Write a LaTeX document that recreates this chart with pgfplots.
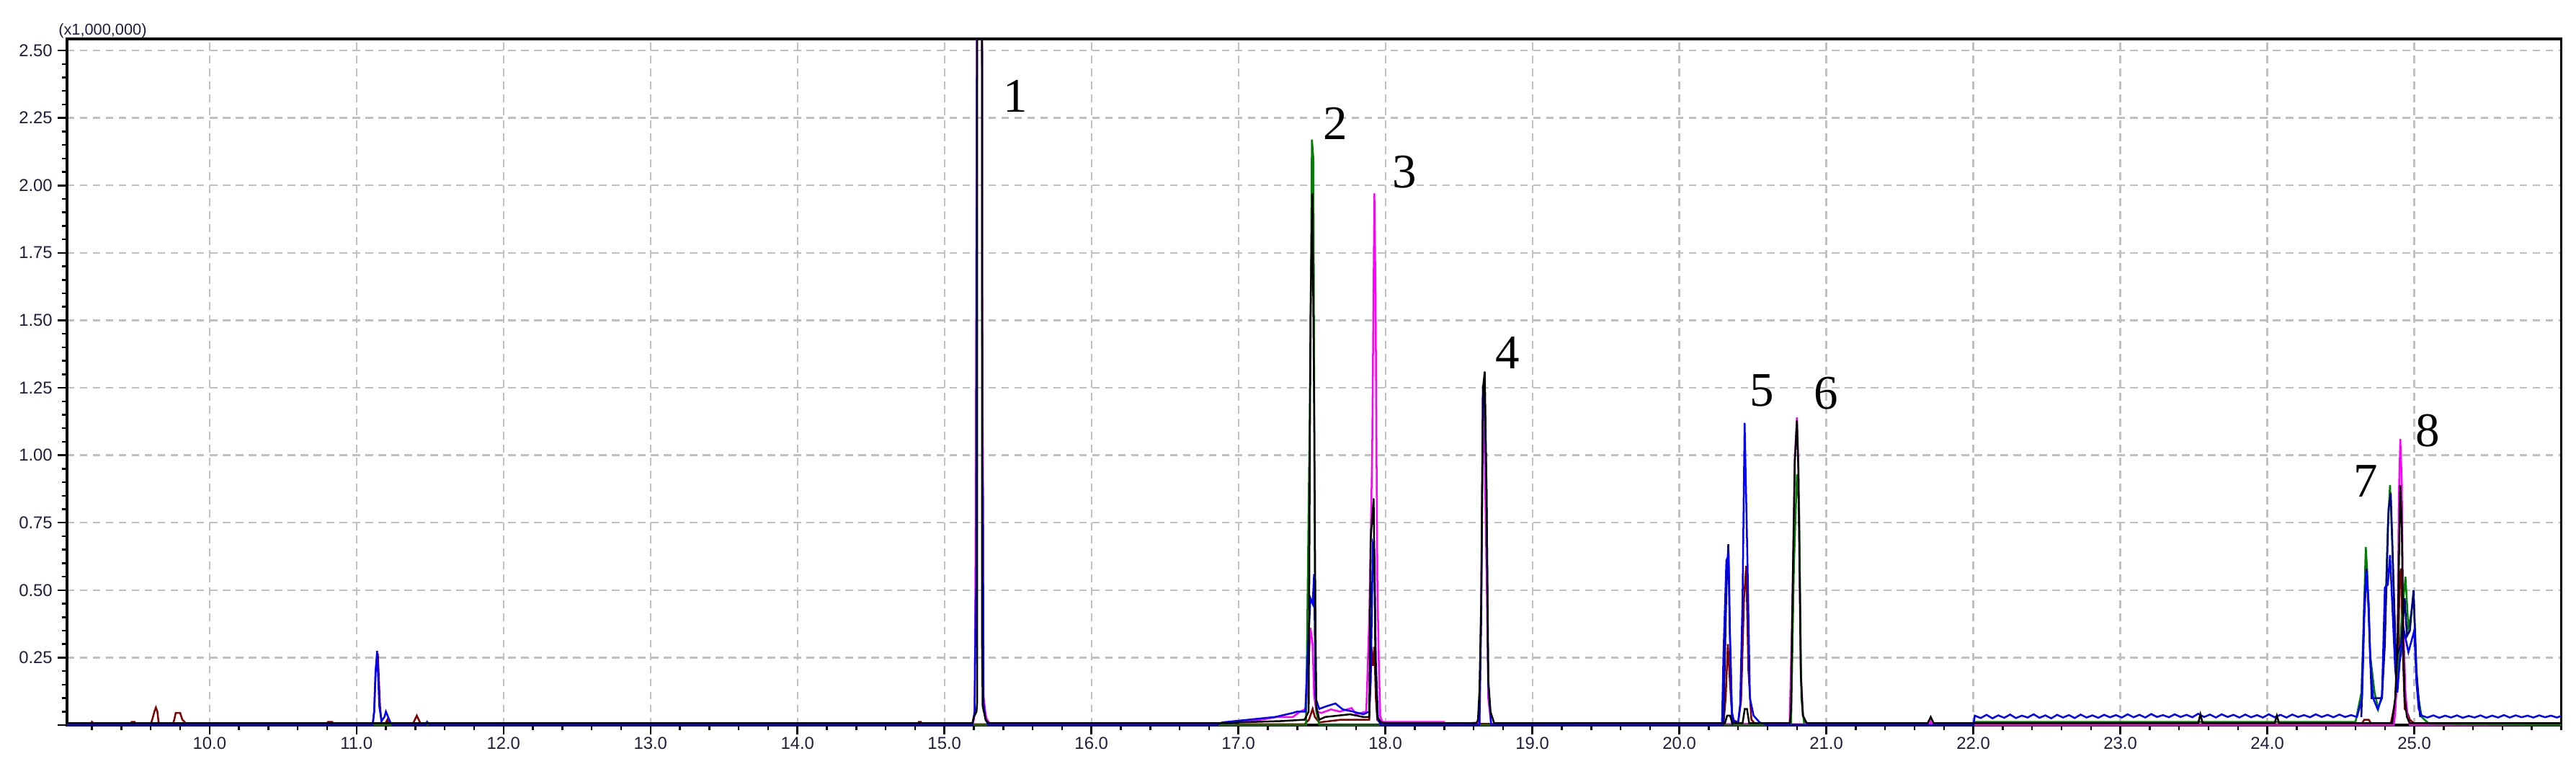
\documentclass[border=0pt]{standalone}
\usepackage{fontspec}
\setmainfont{Liberation Sans}
\newfontfamily\peakfont{Liberation Serif}
\usepackage{pgfplots}
\pgfplotsset{compat=1.18}

\definecolor{trmaroon}{RGB}{128,0,0}
\definecolor{trmagenta}{RGB}{255,0,255}
\definecolor{trgreen}{RGB}{0,128,0}
\definecolor{trblue}{RGB}{0,0,255}
\definecolor{trnavy}{RGB}{0,0,128}
\definecolor{gridgray}{RGB}{192,192,192}
\definecolor{tickcol}{RGB}{30,30,60}

\begin{document}
\begin{tikzpicture}
\begin{axis}[
  scale only axis,
  width=29.05cm,
  height=7.99cm,
  xmin=9.03, xmax=26.0,
  ymin=0, ymax=2.543,
  axis line style={line width=0.8pt},
  tick align=outside,
  tick pos=left,
  xtick={10,...,25},
  xticklabels={10.0,11.0,12.0,13.0,14.0,15.0,16.0,17.0,18.0,19.0,20.0,21.0,22.0,23.0,24.0,25.0},
  minor xtick={9.2,9.4,...,25.9},
  ytick={0,0.25,...,2.5},
  yticklabels={{},0.25,0.50,0.75,1.00,1.25,1.50,1.75,2.00,2.25,2.50},
  minor ytick={0.05,0.1,...,2.51},
  major tick length=0.11cm,
  minor tick length=0.055cm,
  every tick/.style={black, line width=0.6pt},
  every tick label/.append style={font=\fontsize{5.7}{6}\selectfont, text=tickcol},
  xticklabel style={inner sep=0.8pt},
  yticklabel style={inner sep=1.5pt},
  grid=major,
  major grid style={gridgray, line width=0.55pt, dash pattern=on 2.5pt off 1.8pt},
  every axis plot/.append style={line width=0.6pt},
]

%% maroon trace
\addplot[trmaroon] coordinates {
(9.03,0.003)(9.19,0.003)(9.20,0.012)(9.215,0.003)(9.46,0.003)(9.47,0.012)(9.49,0.012)(9.50,0.003)
(9.60,0.003)(9.61,0.02)(9.625,0.05)(9.635,0.065)(9.645,0.05)(9.655,0.003)(9.75,0.003)(9.76,0.02)
(9.77,0.045)(9.80,0.045)(9.815,0.02)(9.83,0.012)(9.84,0.003)(10.80,0.003)(10.805,0.012)(10.835,0.012)
(10.84,0.003)(11.11,0.003)(11.12,0.05)(11.13,0.2)(11.145,0.265)(11.16,0.07)(11.17,0.01)(11.19,0.003)
(11.20,0.01)(11.21,0.02)(11.22,0.003)(11.38,0.003)(11.39,0.012)(11.41,0.035)(11.43,0.012)(11.44,0.003)
(14.82,0.003)(14.825,0.012)(14.84,0.012)(14.845,0.003)(17.45,0.003)(17.48,0.02)(17.505,0.06)(17.52,0.03)
(17.55,0.01)(17.70,0.02)(17.85,0.02)(17.89,0.02)(17.905,0.29)(17.915,0.22)(17.925,0.29)(17.935,0.1)
(17.945,0.02)(17.97,0.005)(20.30,0.003)(20.315,0.1)(20.33,0.30)(20.345,0.15)(20.36,0.02)(20.40,0.01)
(20.42,0.09)(20.44,0.47)(20.455,0.59)(20.47,0.2)(20.49,0.02)(20.52,0.003)(24.64,0.003)(24.66,0.02)
(24.69,0.02)(24.71,0.003)(24.84,0.005)(24.86,0.06)(24.875,0.1)(24.89,0.2)(24.90,0.55)(24.91,0.58)
(24.92,0.3)(24.935,0.06)(24.95,0.05)(24.97,0.02)(24.99,0.01)(25.0,0.005)(26.0,0.003)
};

%% magenta trace
\addplot[trmagenta] coordinates {
(9.03,0.0)(15.19,0.0)(15.20,0.02)(15.205,0.05)(15.21,0.49)(15.212,0.69)(15.2215,2.7)(15.256,2.7)
(15.258,1.17)(15.262,0.99)(15.265,0.11)(15.28,0.04)(15.29,0.02)(15.31,0.005)(16.95,0.005)(17.0,0.01)
(17.18,0.022)(17.26,0.03)(17.37,0.03)(17.42,0.05)(17.46,0.06)(17.475,0.2)(17.49,0.36)(17.505,0.30)
(17.515,0.11)(17.53,0.05)(17.565,0.045)(17.63,0.058)(17.69,0.05)(17.77,0.063)(17.80,0.04)(17.87,0.05)
(17.89,0.39)(17.91,1.0)(17.925,1.97)(17.933,1.60)(17.945,0.54)(17.955,0.24)(17.965,0.03)(17.98,0.012)
(18.40,0.012)(18.405,0.0)(18.64,0.01)(18.652,0.48)(18.664,1.26)(18.676,1.0)(18.69,0.5)(18.70,0.1)
(18.72,0.0)(20.75,0.005)(20.768,0.42)(20.785,0.99)(20.80,1.14)(20.81,0.95)(20.826,0.21)(20.84,0.04)
(20.86,0.0)(21.70,0.0)(21.71,0.012)(21.72,0.0)(24.86,0.0)(24.87,0.04)(24.885,0.2)(24.895,0.85)
(24.905,1.06)(24.915,0.9)(24.925,0.38)(24.94,0.12)(24.955,0.03)(24.97,0.0)(26.0,0.0)
};

%% green trace
\addplot[trgreen] coordinates {
(9.03,0.0)(17.46,0.0)(17.467,0.30)(17.49,1.4)(17.50,2.17)(17.51,2.1)(17.52,0.56)(17.53,0.05)
(17.55,0.0)(20.76,0.0)(20.78,0.6)(20.80,0.93)(20.815,0.8)(20.83,0.1)(20.85,0.0)(22.0,0.0)
(22.01,0.012)(24.60,0.012)(24.64,0.12)(24.655,0.37)(24.67,0.66)(24.68,0.57)(24.70,0.26)(24.73,0.12)
(24.755,0.06)(24.78,0.11)(24.80,0.36)(24.82,0.74)(24.835,0.89)(24.85,0.67)(24.87,0.3)(24.89,0.18)
(24.915,0.4)(24.94,0.55)(24.96,0.36)(24.975,0.40)(24.995,0.48)(25.02,0.13)(25.05,0.03)(25.1,0.005)
(26.0,0.0)
};

%% navy trace
\addplot[trnavy] coordinates {
(20.30,0.0)(20.32,0.50)(20.333,0.67)(20.343,0.35)(20.36,0.0)
};
\addplot[trnavy] coordinates {
(24.64,0.03)(24.66,0.45)(24.675,0.58)(24.69,0.42)(24.71,0.1)(24.78,0.1)(24.80,0.3)(24.825,0.8)
(24.84,0.86)(24.855,0.6)(24.875,0.25)(24.91,0.3)(24.935,0.47)(24.95,0.33)(24.97,0.35)(24.995,0.50)
(25.015,0.2)(25.04,0.03)
};

%% blue trace
\addplot[trblue] coordinates {
(9.03,0.0)(11.11,0.0)(11.12,0.05)(11.13,0.2)(11.14,0.275)(11.155,0.07)(11.17,0.015)(11.19,0.03)
(11.20,0.05)(11.215,0.03)(11.23,0.01)(11.25,0.0)(11.47,0.0)(11.48,0.012)(11.50,0.0)(15.19,0.0)
(15.205,0.05)(15.212,0.41)(15.216,0.51)(15.2215,2.7)(15.256,2.7)(15.258,0.99)(15.262,0.81)(15.266,0.08)
(15.28,0.02)(15.30,0.0)(16.85,0.0)(16.89,0.01)(17.25,0.03)(17.37,0.045)(17.40,0.05)(17.455,0.05)
(17.47,0.25)(17.49,0.47)(17.505,0.45)(17.515,0.56)(17.525,0.1)(17.55,0.06)(17.60,0.07)(17.66,0.08)
(17.71,0.058)(17.78,0.05)(17.85,0.04)(17.89,0.05)(17.90,0.16)(17.915,0.67)(17.925,0.65)(17.935,0.24)
(17.95,0.02)(17.97,0.0)(18.64,0.0)(18.652,0.4)(18.664,1.26)(18.676,1.2)(18.688,0.87)(18.70,0.15)
(18.72,0.0)(20.29,0.0)(20.30,0.26)(20.32,0.61)(20.335,0.63)(20.345,0.32)(20.357,0.05)(20.373,0.01)
(20.40,0.01)(20.414,0.08)(20.43,0.47)(20.444,1.12)(20.464,0.59)(20.48,0.10)(20.505,0.035)(20.546,0.01)
(20.60,0.0)(22.0,0.0)
(22.01,0.035)(22.05,0.026)(22.09,0.038)(22.13,0.025)(22.17,0.036)(22.21,0.027)(22.25,0.039)(22.29,0.026)
(22.33,0.035)(22.37,0.028)(22.41,0.040)(22.45,0.027)(22.49,0.036)(22.53,0.025)(22.57,0.038)(22.61,0.028)
(22.65,0.037)(22.69,0.026)(22.73,0.039)(22.77,0.028)(22.81,0.036)(22.85,0.027)(22.89,0.038)(22.93,0.029)
(22.97,0.037)(23.01,0.028)(23.05,0.040)(23.09,0.029)(23.13,0.038)(23.17,0.028)(23.21,0.041)(23.25,0.030)
(23.29,0.037)(23.33,0.029)(23.37,0.040)(23.41,0.030)(23.45,0.038)(23.49,0.029)(23.53,0.042)(23.57,0.030)
(23.61,0.039)(23.65,0.028)(23.69,0.040)(23.73,0.030)(23.77,0.038)(23.81,0.028)(23.85,0.039)(23.89,0.029)
(23.93,0.037)(23.97,0.028)(24.01,0.040)(24.05,0.029)(24.09,0.038)(24.13,0.028)(24.17,0.039)(24.21,0.030)
(24.25,0.037)(24.29,0.029)(24.33,0.040)(24.37,0.030)(24.41,0.038)(24.45,0.029)(24.49,0.039)(24.53,0.030)
(24.57,0.037)(24.61,0.030)
(24.645,0.1)(24.66,0.4)(24.675,0.57)(24.69,0.45)(24.70,0.24)(24.72,0.10)(24.75,0.06)(24.78,0.10)
(24.80,0.51)(24.82,0.52)(24.835,0.63)(24.855,0.39)(24.87,0.21)(24.885,0.12)(24.90,0.23)(24.93,0.35)
(24.96,0.27)(25.0,0.35)(25.015,0.16)(25.03,0.06)
(25.05,0.035)(25.09,0.028)(25.13,0.036)(25.17,0.027)(25.21,0.035)(25.25,0.028)(25.29,0.036)(25.33,0.027)
(25.37,0.034)(25.41,0.028)(25.45,0.036)(25.49,0.027)(25.53,0.035)(25.57,0.028)(25.61,0.037)(25.65,0.028)
(25.69,0.036)(25.73,0.029)(25.77,0.035)(25.81,0.028)(25.85,0.036)(25.89,0.029)(25.93,0.035)(25.97,0.028)
(26.0,0.034)
};

%% black trace
\addplot[black] coordinates {
(9.03,0.007)(15.19,0.007)(15.20,0.03)(15.218,0.05)(15.222,0.08)(15.222,2.7)(15.256,2.7)(15.256,0.3)
(15.26,0.07)(15.28,0.02)(15.30,0.007)(16.95,0.007)(17.0,0.01)(17.3,0.015)(17.45,0.02)(17.478,0.05)
(17.49,1.5)(17.503,1.97)(17.515,1.2)(17.525,0.3)(17.53,0.07)(17.55,0.02)(17.59,0.03)(17.76,0.04)
(17.85,0.03)(17.89,0.03)(17.90,0.69)(17.92,0.84)(17.932,0.24)(17.945,0.03)(17.97,0.01)(18.0,0.007)
(18.62,0.007)(18.63,0.02)(18.64,0.13)(18.652,0.46)(18.664,1.25)(18.676,1.31)(18.688,0.87)(18.70,0.17)
(18.715,0.05)(18.74,0.007)(20.31,0.007)(20.325,0.035)(20.345,0.035)(20.36,0.007)(20.43,0.007)(20.445,0.06)
(20.46,0.06)(20.475,0.007)(20.752,0.007)(20.76,0.06)(20.768,0.41)(20.785,0.97)(20.80,1.13)(20.81,0.94)
(20.826,0.19)(20.84,0.035)(20.867,0.007)(21.69,0.007)(21.71,0.03)(21.73,0.007)(23.53,0.007)(23.545,0.04)
(23.56,0.007)(24.05,0.007)(24.065,0.035)(24.08,0.007)(24.85,0.007)(24.87,0.10)(24.885,0.28)(24.895,0.58)
(24.905,0.89)(24.915,0.74)(24.925,0.30)(24.935,0.10)(24.95,0.03)(24.97,0.007)(26.0,0.007)
};

%% peak numbers
\begin{scope}[font=\peakfont\fontsize{16}{16}\selectfont]
\node at (axis cs:15.485,2.33) {1};
\node at (axis cs:17.66,2.23) {2};
\node at (axis cs:18.13,2.05) {3};
\node at (axis cs:18.83,1.38) {4};
\node at (axis cs:20.56,1.24) {5};
\node at (axis cs:21.0,1.23) {6};
\node at (axis cs:24.67,0.905) {7};
\node at (axis cs:25.09,1.09) {8};
\end{scope}
\end{axis}
\node[font=\fontsize{5.2}{6}\selectfont, text=tickcol, inner sep=0pt]
  at ([xshift=0.415cm,yshift=0.092cm]current axis.north west) {(x1,000,000)};
\pgfresetboundingbox
\useasboundingbox ([xshift=-0.780cm,yshift=-0.655cm]current axis.south west)
  rectangle ([xshift=0.172cm,yshift=0.453cm]current axis.north east);
\end{tikzpicture}
\end{document}
